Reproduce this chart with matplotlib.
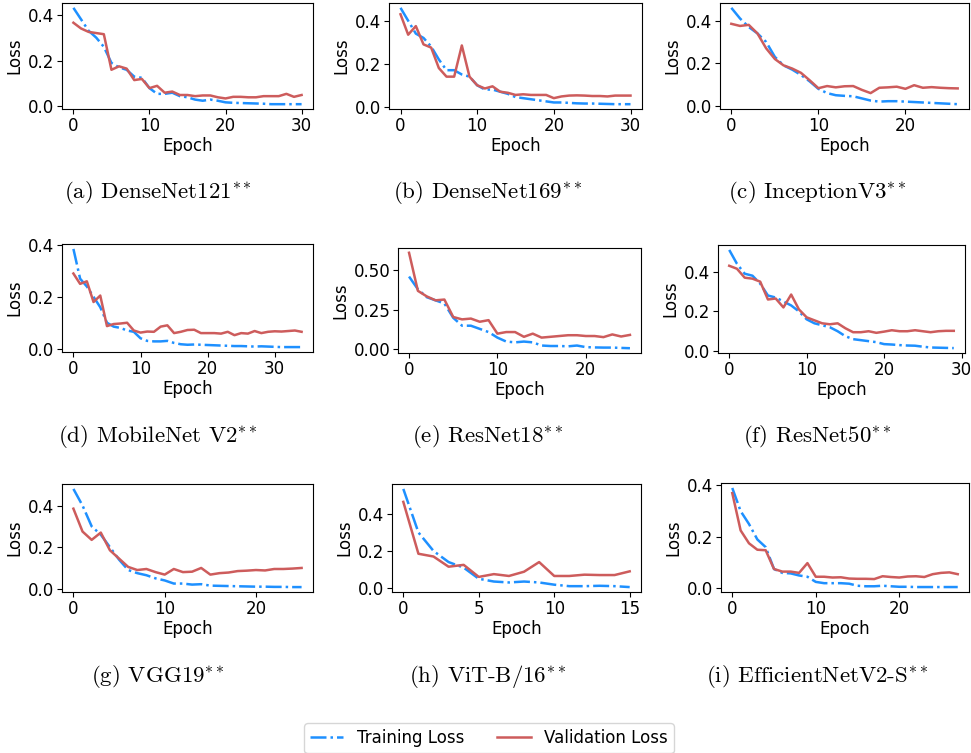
import matplotlib
matplotlib.use("Agg")
import matplotlib.pyplot as plt
from matplotlib.lines import Line2D

# ---- data (loss per epoch) ----
densenet121_train = [0.43, 0.38, 0.33, 0.30, 0.26, 0.19, 0.17, 0.16, 0.13, 0.125,
                     0.08, 0.055, 0.055, 0.06, 0.045, 0.04, 0.03, 0.025, 0.03, 0.025,
                     0.018, 0.016, 0.015, 0.014, 0.013, 0.012, 0.01, 0.01, 0.01, 0.01, 0.01]
densenet121_val = [0.365, 0.34, 0.325, 0.32, 0.315, 0.16, 0.175, 0.165, 0.115, 0.12,
                   0.08, 0.09, 0.06, 0.065, 0.05, 0.05, 0.045, 0.048, 0.048, 0.04,
                   0.035, 0.042, 0.042, 0.04, 0.04, 0.045, 0.045, 0.045, 0.055, 0.042, 0.05]

densenet169_train = [0.46, 0.40, 0.34, 0.32, 0.28, 0.22, 0.17, 0.17, 0.15, 0.14,
                     0.10, 0.08, 0.08, 0.07, 0.06, 0.045, 0.04, 0.035, 0.03, 0.025,
                     0.02, 0.02, 0.018, 0.016, 0.015, 0.015, 0.014, 0.013, 0.012, 0.012, 0.012]
densenet169_val = [0.43, 0.335, 0.375, 0.29, 0.275, 0.18, 0.14, 0.14, 0.285, 0.14,
                   0.10, 0.085, 0.095, 0.07, 0.065, 0.055, 0.058, 0.055, 0.055, 0.055,
                   0.04, 0.048, 0.052, 0.053, 0.052, 0.05, 0.05, 0.048, 0.052, 0.052, 0.052]

inception_train = [0.46, 0.41, 0.37, 0.34, 0.30, 0.23, 0.19, 0.17, 0.145, 0.115,
                   0.08, 0.06, 0.05, 0.047, 0.045, 0.035, 0.025, 0.02, 0.022, 0.022,
                   0.02, 0.018, 0.016, 0.014, 0.012, 0.01, 0.008]
inception_val = [0.385, 0.375, 0.38, 0.34, 0.27, 0.22, 0.19, 0.175, 0.155, 0.12,
                 0.083, 0.093, 0.087, 0.092, 0.093, 0.075, 0.06, 0.085, 0.087, 0.09,
                 0.08, 0.097, 0.085, 0.088, 0.085, 0.083, 0.082]

mobilenet_train = [0.385, 0.27, 0.24, 0.20, 0.16, 0.10, 0.085, 0.08, 0.07, 0.065,
                   0.04, 0.03, 0.028, 0.028, 0.03, 0.022, 0.017, 0.015, 0.016, 0.015,
                   0.014, 0.013, 0.012, 0.011, 0.01, 0.01, 0.009, 0.008, 0.009, 0.008,
                   0.007, 0.006, 0.006, 0.006, 0.006]
mobilenet_val = [0.29, 0.25, 0.26, 0.18, 0.205, 0.087, 0.095, 0.097, 0.10, 0.07,
                 0.062, 0.066, 0.065, 0.085, 0.09, 0.06, 0.065, 0.072, 0.073, 0.06,
                 0.06, 0.06, 0.058, 0.065, 0.052, 0.06, 0.058, 0.068, 0.06, 0.065,
                 0.067, 0.066, 0.068, 0.07, 0.065]

resnet18_train = [0.46, 0.38, 0.33, 0.31, 0.29, 0.20, 0.15, 0.15, 0.13, 0.11,
                  0.075, 0.05, 0.045, 0.05, 0.045, 0.025, 0.022, 0.022, 0.02, 0.025,
                  0.015, 0.013, 0.012, 0.012, 0.01, 0.008]
resnet18_val = [0.61, 0.37, 0.335, 0.31, 0.315, 0.205, 0.19, 0.195, 0.175, 0.185,
                0.10, 0.11, 0.11, 0.08, 0.10, 0.075, 0.08, 0.085, 0.09, 0.09,
                0.085, 0.085, 0.078, 0.095, 0.082, 0.092]

resnet50_train = [0.51, 0.44, 0.39, 0.38, 0.34, 0.28, 0.27, 0.25, 0.23, 0.20,
                  0.16, 0.14, 0.13, 0.12, 0.10, 0.075, 0.06, 0.055, 0.05, 0.045,
                  0.035, 0.033, 0.03, 0.028, 0.027, 0.022, 0.018, 0.017, 0.016, 0.015]
resnet50_val = [0.43, 0.415, 0.37, 0.365, 0.35, 0.26, 0.265, 0.22, 0.285, 0.21,
                0.17, 0.155, 0.14, 0.135, 0.14, 0.115, 0.095, 0.095, 0.10, 0.092,
                0.098, 0.105, 0.10, 0.10, 0.105, 0.10, 0.095, 0.10, 0.102, 0.102]

vgg19_train = [0.48, 0.40, 0.30, 0.26, 0.20, 0.14, 0.09, 0.075, 0.065, 0.05,
               0.04, 0.025, 0.025, 0.02, 0.022, 0.015, 0.014, 0.013, 0.012, 0.011,
               0.01, 0.01, 0.009, 0.009, 0.008, 0.008]
vgg19_val = [0.385, 0.275, 0.235, 0.27, 0.185, 0.145, 0.105, 0.09, 0.095, 0.08,
             0.068, 0.095, 0.08, 0.082, 0.10, 0.068, 0.075, 0.078, 0.085, 0.087,
             0.09, 0.088, 0.095, 0.095, 0.097, 0.10]

vit_train = [0.535, 0.30, 0.20, 0.14, 0.11, 0.05, 0.035, 0.03, 0.035, 0.03,
             0.018, 0.01, 0.01, 0.012, 0.01, 0.005]
vit_val = [0.465, 0.185, 0.17, 0.115, 0.125, 0.06, 0.075, 0.065, 0.088, 0.14,
           0.065, 0.065, 0.072, 0.07, 0.07, 0.09]

effnet_train = [0.39, 0.30, 0.25, 0.19, 0.16, 0.075, 0.06, 0.058, 0.05, 0.045,
                0.025, 0.02, 0.02, 0.02, 0.018, 0.01, 0.008, 0.008, 0.01, 0.008,
                0.006, 0.006, 0.005, 0.005, 0.005, 0.005, 0.005, 0.005]
effnet_val = [0.37, 0.225, 0.175, 0.15, 0.148, 0.075, 0.065, 0.065, 0.06, 0.098,
              0.045, 0.045, 0.042, 0.043, 0.038, 0.037, 0.037, 0.036, 0.047, 0.044,
              0.042, 0.046, 0.047, 0.044, 0.055, 0.06, 0.062, 0.055]

captions = ["(a) DenseNet121", "(b) DenseNet169", "(c) InceptionV3",
            "(d) MobileNet V2", "(e) ResNet18", "(f) ResNet50",
            "(g) VGG19", "(h) ViT-B/16", "(i) EfficientNetV2-S"]
train_series = [densenet121_train, densenet169_train, inception_train,
                mobilenet_train, resnet18_train, resnet50_train,
                vgg19_train, vit_train, effnet_train]
val_series = [densenet121_val, densenet169_val, inception_val,
              mobilenet_val, resnet18_val, resnet50_val,
              vgg19_val, vit_val, effnet_val]

TRAIN_COLOR = '#1E90FF'
VAL_COLOR = '#CD5C5C'

W, H = 971, 753

# axes boxes in pixels: (left, top, right, bottom)
boxes = [
    (62, 3, 313, 109), (389, 3, 642, 109), (720, 3, 969, 109),
    (62, 244, 313, 352), (398, 248, 641, 353), (718, 245, 965, 353),
    (62, 484, 313, 592), (392, 484, 641, 592), (721, 483, 969, 592),
]
caption_x = [158, 488, 817]
caption_y = [193, 436, 676]

plt.rcParams.update({
    'xtick.labelsize': 12,
    'ytick.labelsize': 12,
    'axes.labelsize': 12,
    'mathtext.fontset': 'cm',
})

fig = plt.figure(figsize=(W / 100, H / 100), dpi=100)

for i, (l, t, r, b) in enumerate(boxes):
    ax = fig.add_axes([l / W, 1 - b / H, (r - l) / W, (b - t) / H])
    tr = train_series[i]
    va = val_series[i]
    ax.plot(range(len(tr)), tr, color=TRAIN_COLOR, linestyle='-.', linewidth=1.8)
    ax.plot(range(len(va)), va, color=VAL_COLOR, linestyle='-', linewidth=1.8)
    ax.set_xlabel("Epoch", labelpad=2)
    ax.set_ylabel("Loss", labelpad=3)
    ax.tick_params(pad=2)

    # caption in Computer Modern, like the LaTeX subfigure captions
    fig.text(caption_x[i % 3] / W, 1 - caption_y[i // 3] / H,
             captions[i] + r"$^{**}$", family='cmr10',
             ha='center', va='center', fontsize=16.5)

handles = [Line2D([], [], color=TRAIN_COLOR, linestyle='-.', linewidth=1.8),
           Line2D([], [], color=VAL_COLOR, linestyle='-', linewidth=1.8)]
fig.legend(handles, ["Training Loss", "Validation Loss"], loc='center',
           bbox_to_anchor=(489 / W, 1 - 738 / H), ncol=2, fontsize=12,
           frameon=True, columnspacing=2.0, borderpad=0.35)

fig.savefig("out.png", dpi=100)
plt.close(fig)
